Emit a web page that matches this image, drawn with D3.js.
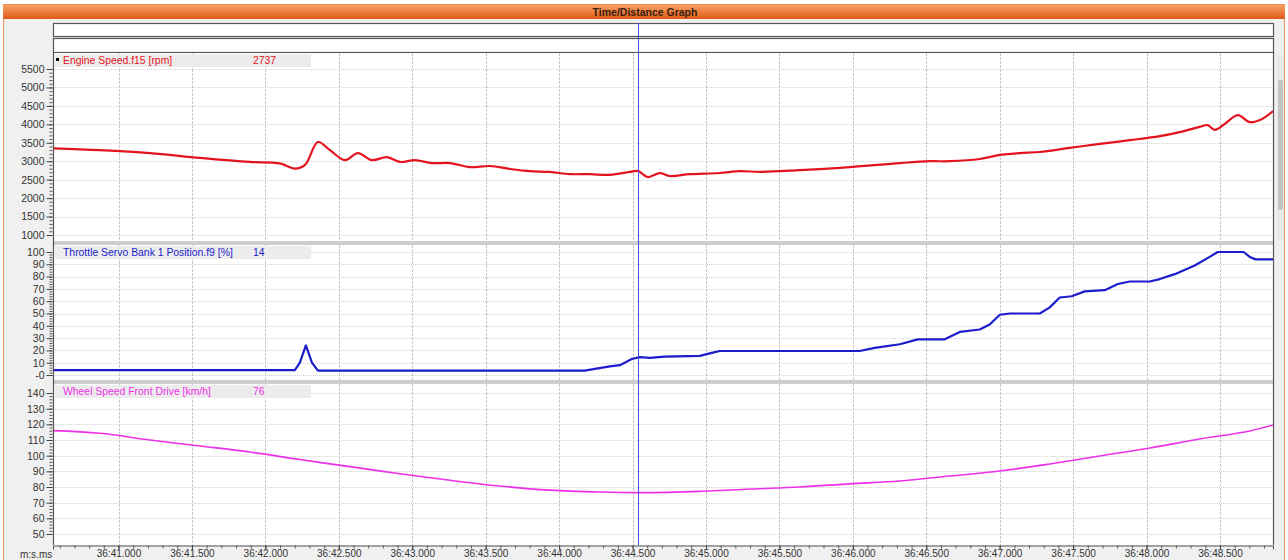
<!DOCTYPE html>
<html>
<head>
<meta charset="utf-8">
<script src="https://cdn.jsdelivr.net/npm/d3@7"></script>
<style>
  body { margin: 0; background: #ffffff; }
  svg { display: block; font-family: "Liberation Sans", Arial, sans-serif; }
</style>
</head>
<body>
<svg id="chart" width="1288" height="560"></svg>
<script>
// ---- Time axis (seconds within minute 36) ----
const xDomain = [40.554, 48.861];
const xTicks = [41.0, 41.5, 42.0, 42.5, 43.0, 43.5, 44.0, 44.5, 45.0, 45.5, 46.0, 46.5, 47.0, 47.5, 48.0, 48.5];
const cursorTime = 44.536;

// ---- Engine Speed.f15 [rpm] ----
const engineTime = [40.554, 40.874, 41.214, 41.555, 41.895, 42.099, 42.201, 42.270, 42.358, 42.440, 42.542, 42.630, 42.726, 42.828, 42.916, 43.018, 43.134, 43.257, 43.393, 43.529, 43.665, 43.801, 43.937, 44.073, 44.210, 44.346, 44.482, 44.536, 44.604, 44.686, 44.754, 44.890, 45.094, 45.231, 45.367, 45.639, 45.980, 46.320, 46.524, 46.660, 46.864, 47.001, 47.137, 47.273, 47.477, 47.681, 47.886, 48.090, 48.226, 48.362, 48.416, 48.464, 48.532, 48.621, 48.703, 48.784, 48.861];
const engineRpm = [3350, 3300, 3220, 3090, 2980, 2940, 2800, 2900, 3520, 3300, 3030, 3220, 3030, 3110, 2980, 3030, 2950, 2950, 2840, 2870, 2790, 2730, 2710, 2650, 2650, 2630, 2710, 2737, 2570, 2680, 2600, 2650, 2680, 2730, 2710, 2760, 2840, 2950, 3000, 3000, 3060, 3170, 3220, 3250, 3360, 3470, 3570, 3680, 3790, 3930, 3980, 3850, 4010, 4250, 4060, 4140, 4360];
const engineTicks = [1000, 1500, 2000, 2500, 3000, 3500, 4000, 4500, 5000, 5500];

// ---- Throttle Servo Bank 1 Position.f9 [%] ----
const throttleTime = [40.554, 42.201, 42.235, 42.276, 42.317, 42.358, 44.176, 44.244, 44.346, 44.414, 44.495, 44.550, 44.618, 44.720, 44.958, 45.040, 45.094, 46.047, 46.149, 46.320, 46.442, 46.626, 46.728, 46.864, 46.932, 47.001, 47.069, 47.273, 47.341, 47.409, 47.490, 47.579, 47.715, 47.804, 47.886, 48.022, 48.090, 48.192, 48.328, 48.430, 48.484, 48.661, 48.703, 48.743, 48.861];
const throttlePct = [4, 4, 10, 24, 10, 3.5, 3.5, 5, 7, 8, 13, 14.5, 14, 15, 15.5, 18, 19.5, 19.5, 22, 25, 29, 29, 35, 37, 41, 49, 50, 50, 55, 63, 64, 68, 69, 74, 76, 76, 78, 82, 89, 96, 100, 100, 96, 94, 94];
const throttleTicks = [0, 10, 20, 30, 40, 50, 60, 70, 80, 90, 100];

// ---- Wheel Speed Front Drive [km/h] ----
const wheelTime = [40.554, 40.874, 41.214, 41.555, 41.895, 42.235, 42.576, 42.916, 43.257, 43.597, 43.937, 44.278, 44.550, 44.958, 45.299, 45.639, 45.980, 46.320, 46.660, 47.001, 47.341, 47.681, 48.022, 48.362, 48.703, 48.861];
const wheelKmh = [116, 114.3, 110, 106.2, 102.3, 97.5, 93, 88.5, 84.3, 80.6, 78, 76.8, 76.4, 77.2, 78.7, 80, 82, 83.8, 87, 90.2, 94.7, 99.8, 104.9, 110.6, 115.8, 119.6];
const wheelTicks = [50, 60, 70, 80, 90, 100, 110, 120, 130, 140];

const panels = [
  { name: "Engine Speed.f15 [rpm]", value: "2737", color: "#e4141e", width: 2.2,
    t: engineTime, v: engineRpm, ticks: engineTicks, minorStep: 100,
    domain: [1000, 5500], top: 53, bottom: 241, yRange: [235, 69], marker: true,
    curve: d3.curveCatmullRom.alpha(0.5), fmt: d => String(d) },
  { name: "Throttle Servo Bank 1 Position.f9 [%]", value: "14", color: "#1c1ccc", width: 2.2,
    t: throttleTime, v: throttlePct, ticks: throttleTicks, minorStep: 2,
    domain: [0, 100], top: 245, bottom: 380, yRange: [375, 252], marker: false,
    curve: d3.curveLinear, fmt: d => d === 0 ? "-0" : String(d) },
  { name: "Wheel Speed Front Drive [km/h]", value: "76", color: "#ee30e8", width: 1.6,
    t: wheelTime, v: wheelKmh, ticks: wheelTicks, minorStep: 2,
    domain: [50, 140], top: 384, bottom: 545, yRange: [534, 393], marker: false,
    curve: d3.curveCatmullRom.alpha(0.5), fmt: d => String(d) }
];

const L = 53, R = 1273;
const svg = d3.select("#chart");
const x = d3.scaleLinear().domain(xDomain).range([L, R]);

// Window body
svg.append("rect").attr("x", 3.5).attr("y", 4.5).attr("width", 1281).attr("height", 560)
  .attr("fill", "#f0f0f0").attr("stroke", "#e8925e").attr("stroke-width", 1);

// Title bar
const defs = svg.append("defs");
const grad = defs.append("linearGradient").attr("id", "titleGrad").attr("x1", 0).attr("x2", 0).attr("y1", 0).attr("y2", 1);
grad.append("stop").attr("offset", "0%").attr("stop-color", "#f7a064");
grad.append("stop").attr("offset", "100%").attr("stop-color", "#e05a18");
svg.append("rect").attr("x", 3).attr("y", 5).attr("width", 1282).attr("height", 14).attr("fill", "url(#titleGrad)");
svg.append("text").attr("x", 645).attr("y", 16).attr("text-anchor", "middle")
  .attr("font-size", 10.5).attr("font-weight", "bold").attr("fill", "#3a2010").text("Time/Distance Graph");

// Two empty strip rows above the graphs
[[23, 13], [38, 14]].forEach(([y0, h]) => {
  svg.append("rect").attr("x", L + 0.5).attr("y", y0 + 0.5).attr("width", R - L).attr("height", h)
    .attr("fill", "#ffffff").attr("stroke", "#555555").attr("stroke-width", 1.2);
});

// Scrollbar on the right
svg.append("rect").attr("x", 1277).attr("y", 55).attr("width", 7).attr("height", 186).attr("rx", 3).attr("fill", "#e8e8e8");
svg.append("rect").attr("x", 1278).attr("y", 80).attr("width", 5).attr("height", 130).attr("rx", 2).attr("fill", "#c4c4c4");

panels.forEach((p, i) => {
  const y = d3.scaleLinear().domain(p.domain).range(p.yRange);
  const g = svg.append("g");
  const clipId = "clip" + i;
  defs.append("clipPath").attr("id", clipId).append("rect")
    .attr("x", L).attr("y", p.top).attr("width", R - L).attr("height", p.bottom - p.top);

  g.append("rect").attr("x", L).attr("y", p.top).attr("width", R - L).attr("height", p.bottom - p.top).attr("fill", "#ffffff");

  // horizontal grid
  g.selectAll(".hg").data(p.ticks).enter().append("line")
    .attr("x1", L).attr("x2", R).attr("y1", d => Math.round(y(d)) + 0.5).attr("y2", d => Math.round(y(d)) + 0.5)
    .attr("stroke", "#d2d2d2").attr("stroke-dasharray", "1,1");
  // vertical grid
  g.selectAll(".vg").data(xTicks).enter().append("line")
    .attr("x1", d => Math.round(x(d)) + 0.5).attr("x2", d => Math.round(x(d)) + 0.5)
    .attr("y1", p.top).attr("y2", p.bottom)
    .attr("stroke", "#c8c8c8").attr("stroke-dasharray", "3,1");

  // label box
  g.append("rect").attr("x", L + 2).attr("y", p.top + 1).attr("width", 256).attr("height", 13).attr("fill", "#ececec");
  if (p.marker) {
    g.append("rect").attr("x", 56).attr("y", p.top + 5).attr("width", 3).attr("height", 3).attr("fill", "#000");
  }
  g.append("text").attr("x", 63).attr("y", p.top + 11).attr("font-size", 10.4).attr("fill", p.color).text(p.name);
  g.append("text").attr("x", 253).attr("y", p.top + 11).attr("font-size", 10.4).attr("fill", p.color).text(p.value);

  // data line
  const line = d3.line().x(d => x(d[0])).y(d => y(d[1])).curve(p.curve);
  g.append("path").datum(p.t.map((t, k) => [t, p.v[k]]))
    .attr("clip-path", `url(#${clipId})`)
    .attr("d", line).attr("fill", "none").attr("stroke", p.color)
    .attr("stroke-width", p.width).attr("stroke-linejoin", "round");

  // y axis: minor then major ticks
  const minor = d3.range(p.domain[0], p.domain[1] + p.minorStep / 2, p.minorStep)
    .filter(v => y(v) >= p.top && y(v) <= p.bottom);
  const ax = svg.append("g").attr("transform", `translate(${L - 0.5},0)`);
  ax.call(d3.axisLeft(y).tickValues(minor).tickSize(3).tickFormat(""));
  ax.call(g2 => g2.select(".domain").remove());
  const axM = svg.append("g").attr("transform", `translate(${L - 0.5},0)`);
  axM.call(d3.axisLeft(y).tickValues(p.ticks).tickSize(6).tickPadding(2).tickFormat(p.fmt));
  axM.select(".domain").remove();
  axM.selectAll("text").attr("font-size", 10.5).attr("fill", "#333").attr("font-family", "Liberation Sans, Arial, sans-serif");
  axM.selectAll("line").attr("stroke", "#444");
  ax.selectAll("line").attr("stroke", "#555");

  // separator band under panel (except the last)
  if (i < panels.length - 1) {
    svg.append("rect").attr("x", L).attr("y", p.bottom).attr("width", R - L).attr("height", 4).attr("fill", "#cdcdcd");
  }
});

// Plot frame
svg.append("line").attr("x1", L + 0.5).attr("x2", L + 0.5).attr("y1", 52).attr("y2", 545).attr("stroke", "#555").attr("stroke-width", 1.2);
svg.append("line").attr("x1", R + 0.5).attr("x2", R + 0.5).attr("y1", 52).attr("y2", 545).attr("stroke", "#555").attr("stroke-width", 1.2);
svg.append("line").attr("x1", L).attr("x2", R + 1).attr("y1", 52.5).attr("y2", 52.5).attr("stroke", "#555").attr("stroke-width", 1.2);

// Cursor
svg.append("line").attr("x1", Math.round(x(cursorTime)) + 0.5).attr("x2", Math.round(x(cursorTime)) + 0.5)
  .attr("y1", 23).attr("y2", 545).attr("stroke", "#4a4aee").attr("stroke-width", 1);

// X axis
const xMinor = d3.range(40.6, 48.86, 0.1);
const xa = svg.append("g").attr("transform", "translate(0,545.5)");
xa.call(d3.axisBottom(x).tickValues(xMinor).tickSize(3).tickFormat(""));
xa.selectAll("line").attr("stroke", "#555");
xa.select(".domain").remove();
const xaM = svg.append("g").attr("transform", "translate(0,545.5)");
xaM.call(d3.axisBottom(x).tickValues(xTicks).tickSize(4).tickPadding(1)
  .tickFormat(d => "36:" + d3.format("06.3f")(d)));
xaM.select(".domain").attr("stroke", "#555");
xaM.selectAll("line").attr("stroke", "#444");
xaM.selectAll("text").attr("font-size", 10).attr("dy", "0.6em").attr("fill", "#333")
  .attr("font-family", "Liberation Sans, Arial, sans-serif");

svg.append("text").attr("x", 20).attr("y", 558).attr("font-size", 10).attr("fill", "#333").text("m:s.ms");
</script>
</body>
</html>
